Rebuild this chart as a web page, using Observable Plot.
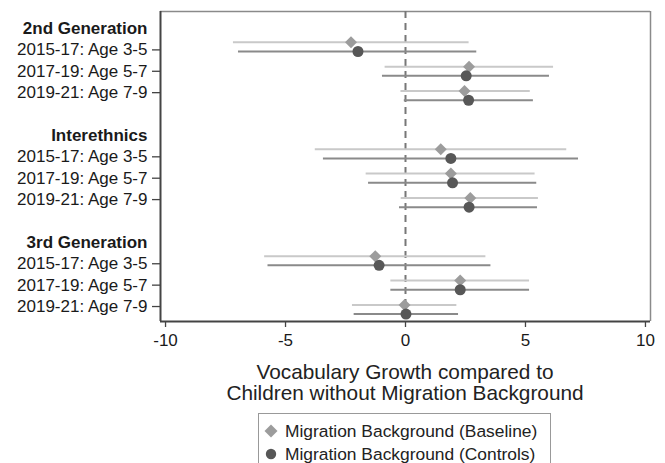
<!DOCTYPE html>
<html><head><meta charset="utf-8">
<script src="https://cdn.jsdelivr.net/npm/d3@7"></script>
<script src="https://cdn.jsdelivr.net/npm/@observablehq/plot@0.6"></script>
<style>
body{margin:0;background:#fff;font-family:"Liberation Sans",Arial,sans-serif;}
#wrap{position:relative;width:665px;height:463px;overflow:hidden;}
#title{position:absolute;left:155px;width:500px;top:361px;text-align:center;font-size:20.8px;line-height:21px;color:#222;}
#legend{position:absolute;left:258px;top:413px;width:293px;height:80px;border:1px solid #999;box-sizing:border-box;}
.item{position:absolute;left:0;font-size:17.4px;color:#222;white-space:nowrap;}
.item svg{position:absolute;left:4px;top:0;}
.item span{position:absolute;left:26px;top:0;line-height:20px;}
</style></head><body>
<div id="wrap"><div id="chart"></div>
<div id="title">Vocabulary Growth compared to<br>Children without Migration Background</div>
<div id="legend"></div>
</div>
<script>
const groups = ["2nd Generation", "Interethnics", "3rd Generation"];
const periods = ["2015-17: Age 3-5", "2017-19: Age 5-7", "2019-21: Age 7-9"];
const seriesNames = ["Migration Background (Baseline)", "Migration Background (Controls)"];
const baseEst = [-2.27, 2.65, 2.46, 1.47, 1.89, 2.70, -1.26, 2.28, -0.04];
const baseLo  = [-7.17, -0.85, -0.19, -3.76, -1.64, -0.18, -5.87, -0.61, -2.21];
const baseHi  = [2.65, 6.17, 5.20, 6.72, 5.40, 5.54, 3.35, 5.17, 2.14];
const ctrlEst = [-1.98, 2.53, 2.63, 1.89, 1.96, 2.65, -1.10, 2.28, 0.02];
const ctrlLo  = [-6.96, -0.96, -0.05, -3.42, -1.54, -0.25, -5.73, -0.61, -2.14];
const ctrlHi  = [2.97, 6.00, 5.33, 7.21, 5.47, 5.50, 3.56, 5.17, 2.21];
const xTicks = [-10, -5, 0, 5, 10];

const xDomain = [-10.21, 10.21];
const yDomain = [-0.795, 13.70];
const spread = 1.14, off = 0.215;

const rows = [];
const labelSlots = [], labelText = {};
groups.forEach((g, gi) => {
  periods.forEach((p, pi) => {
    const i = gi * 3 + pi;
    const slot = 5 * gi + 2 + (pi - 1) * spread;
    rows.push({i, yb: slot - off, yc: slot + off,
      be: baseEst[i], bl: baseLo[i], bh: baseHi[i],
      ce: ctrlEst[i], cl: ctrlLo[i], ch: ctrlHi[i]});
    const ls = 5 * gi + 1 + pi;
    labelSlots.push(ls); labelText[ls] = p;
  });
});
const headers = groups.map((g, gi) => ({g, y: 5 * gi}));

const colBaseLine = "#c9c9c9", colBaseDot = "#9c9c9c";
const colCtrlLine = "#8a8a8a", colCtrlDot = "#575757";

const chart = Plot.plot({
  width: 665, height: 463,
  marginLeft: 160, marginRight: 15, marginTop: 11, marginBottom: 142,
  style: {fontFamily: '"Liberation Sans", Arial, sans-serif', fontSize: "17px", color: "#1a1a1a", background: "#fff"},
  x: {domain: xDomain},
  y: {domain: yDomain, reverse: true},
  marks: [
    Plot.ruleY([yDomain[0]], {stroke: "#8a8a8a", strokeWidth: 1.5}),
    Plot.ruleX([xDomain[1]], {stroke: "#8a8a8a", strokeWidth: 1.5}),
    Plot.ruleX([0], {stroke: "#777", strokeWidth: 2, strokeDasharray: "7,5"}),
    Plot.ruleY(rows, {y: "yb", x1: "bl", x2: "bh", stroke: colBaseLine, strokeWidth: 2}),
    Plot.ruleY(rows, {y: "yc", x1: "cl", x2: "ch", stroke: colCtrlLine, strokeWidth: 2}),
    Plot.dot(rows, {x: "be", y: "yb", symbol: "diamond2", r: 5.4, fill: colBaseDot, stroke: "none"}),
    Plot.dot(rows, {x: "ce", y: "yc", symbol: "circle", r: 5.5, fill: colCtrlDot, stroke: "none"}),
    Plot.ruleX([xDomain[0]], {stroke: "#444", strokeWidth: 2}),
    Plot.ruleY([yDomain[1]], {stroke: "#444", strokeWidth: 2}),
    Plot.axisY({ticks: labelSlots, tickFormat: d => labelText[d], tickSize: 8, tickPadding: 5, label: null, fontSize: 17, stroke: "#444", strokeWidth: 1.3}),
    Plot.text(headers, {y: "y", text: "g", frameAnchor: "left", dx: -13, textAnchor: "end", fontWeight: "bold", fontSize: 17, fill: "#1a1a1a"}),
    Plot.axisX({ticks: xTicks, tickFormat: d => String(d), tickSize: 6, tickPadding: 6, label: null, fontSize: 17, stroke: "#444", strokeWidth: 1.3})
  ]
});
document.getElementById("chart").appendChild(chart);

const legend = document.getElementById("legend");
const symSvg = [
  `<svg width="16" height="20"><path d="M8,3.5 L14.5,10 L8,16.5 L1.5,10 Z" fill="${colBaseDot}"/></svg>`,
  `<svg width="16" height="20"><circle cx="8" cy="10" r="5.2" fill="${colCtrlDot}"/></svg>`
];
seriesNames.forEach((n, k) => {
  const d = document.createElement("div");
  d.className = "item";
  d.style.top = (7 + k * 22.6) + "px";
  d.innerHTML = symSvg[k] + `<span>${n}</span>`;
  legend.appendChild(d);
});
</script>
</body></html>
